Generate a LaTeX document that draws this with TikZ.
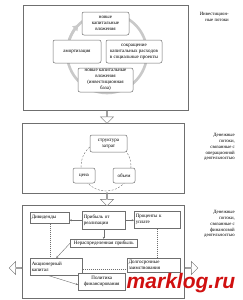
\documentclass[tikz,border=0pt]{standalone}
\usepackage{fontspec}
\setmainfont{Liberation Serif}
\newfontfamily\markfont{Liberation Sans}
\usetikzlibrary{arrows.meta,positioning,shapes.arrows,calc}
\definecolor{flowGrey}{HTML}{6f6f6f}
\definecolor{flowRing}{HTML}{c9c9c9}
\definecolor{flowRed}{HTML}{d01010}
\tikzset{
  >={Stealth[length=2.2pt,width=2pt]},
  panel/.style={draw=flowGrey, line width=0.5pt, inner sep=0pt},
  rbox/.style={rounded corners=2pt, draw=flowGrey, fill=white, line width=0.5pt,
              align=center, inner sep=1pt, font=\fontsize{5}{6}\selectfont},
  sbox/.style={draw=flowGrey, fill=white, line width=0.5pt, anchor=north west,
              align=left, inner sep=1.5pt, font=\fontsize{5}{6}\selectfont,
              minimum width=#1, text width=#1-3pt},
  side/.style={align=right, anchor=north east, inner sep=0pt,
              font=\fontsize{4.8}{5.9}\selectfont},
  hollow/.style={single arrow, draw=flowGrey, fill=white, line width=0.5pt,
              minimum height=13pt, minimum width=13pt, inner sep=0pt,
              single arrow head extend=2pt},
  ring/.style={draw=flowRing, line width=2.6pt},
  loop/.style={draw=flowGrey, line width=0.4pt, dash pattern=on 2pt off 1.5pt},
  flow/.style={->, draw=flowGrey, line width=0.4pt},
  link/.style={draw=flowGrey, line width=0.4pt, dash pattern=on 1pt off 1pt},
}
\begin{document}
\begin{tikzpicture}[x=1pt,y=-1pt]
    \useasboundingbox (0,0) rectangle (243,300);
    % investment flows
    \node[panel,minimum width=165pt,minimum height=105pt] (inv) at (105.5,57.5) {};
    \coordinate (ic) at (107,53);
    \draw[ring] (ic) circle (40);
    \draw[ring,-{Triangle[length=5pt,width=7pt]}] ($(ic)+(200:40)$) arc[start angle=200,end angle=224,radius=40];
    \node[rbox,minimum width=47pt,minimum height=23pt] (nkv) at (105.5,23.5)
          {новые\\капитальные\\вложения};
    \node[rbox,minimum width=48pt,minimum height=23pt] (amort) at (77,51.5) {амортизация};
    \node[rbox,minimum width=56pt,minimum height=23pt] (sokr) at (134,51.5)
          {сокращение\\капитальных расходов\\в социальные проекты};
    \node[rbox,minimum width=55pt,minimum height=24pt] (base) at (105.5,80)
          {новые капитальные\\вложения\\(инвестиционная\\база)};
    \node[side] (sinv) at (229,12) {Инвестицион-\\ные потоки};
    % operating flows
    \node[panel,minimum width=162pt,minimum height=70pt] (op) at (103,158) {};
    \node[hollow,shape border rotate=270] (a1) at (107,116.5) {};
    \coordinate (oc) at (106,166);
    \draw[loop] (oc) circle (25);
    \node[rbox,minimum width=37pt,minimum height=17pt] (zatr) at (108.5,143.5) {структура\\затрат};
    \node[rbox,minimum width=22pt,minimum height=15pt] (cena) at (84,175.5) {цена};
    \node[rbox,minimum width=22pt,minimum height=15pt] (obem) at (124,175.5) {объем};
    \node[side] (sop) at (235,133) {Денежные\\потоки,\\связанные с\\операционной\\деятельностью};
    % financing flows
    \node[panel,minimum width=162pt,minimum height=93pt] (fin) at (103,251.5) {};
    \node[hollow,shape border rotate=270] (a2) at (107,199) {};
    \node[hollow,shape border rotate=180] (a3) at (16,268) {};
    \node[hollow] (a4) at (191,268) {};
    \node[sbox=39pt,minimum height=11pt] (div) at (30,212) {Дивиденды};
    \node[sbox=43pt,minimum height=18pt] (pr) at (82,211) {Прибыль от\\реализации};
    \node[sbox=46pt,minimum height=17pt] (proc) at (134,211) {Проценты к\\уплате};
    \node[sbox=67pt,align=center,minimum height=8pt] (nerasp) at (70,239) {Нераспределенная прибыль};
    \node[sbox=52pt,minimum height=17pt] (akc) at (30,258) {Акционерный\\капитал};
    \node[sbox=53pt,minimum height=14pt] (dolg) at (127,258) {Долгосрочные\\заимствования};
    \node[sbox=47pt,align=center,minimum height=17pt] (polit) at (78,273) {Политика\\финансирования};
    \draw[flow] (pr.west) -- (pr.west -| div.east);
    \draw[flow] (pr.east) -- (pr.east -| proc.west);
    \draw[flow] (pr.south) -- (pr.south |- nerasp.north);
    \draw[flow] (nerasp.west) -- (akc.north);
    \draw[flow] ([xshift=-8pt]akc.south) -- ([yshift=-3pt]polit.west);
    \draw[link] (div.south) -- (div.south |- akc.north);
    \draw[link] (proc.south) -- (proc.south |- dolg.north);
    \draw[link] ([yshift=-2pt]akc.east) -- ([yshift=-2pt]akc.east -| dolg.west);
    \node[side] (sfin) at (235,210) {Денежные\\потоки,\\связанные с\\финансовой\\деятельностью};
    \node[text=flowRed,font=\markfont\bfseries\itshape\fontsize{21}{21}\selectfont,inner sep=0pt] (mark) at (181,283) {marklog.ru};
\end{tikzpicture}
\end{document}
